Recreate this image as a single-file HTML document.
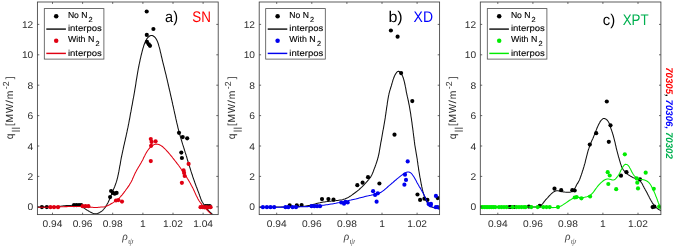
<!DOCTYPE html>
<html><head><meta charset="utf-8"><title>q parallel profiles</title>
<style>
html,body{margin:0;padding:0;background:#fff;}
body{width:674px;height:248px;overflow:hidden;}
svg{display:block;will-change:transform;}
text{font-family:"Liberation Sans",sans-serif;text-rendering:geometricPrecision;}
</style></head><body>
<svg width="674" height="248" viewBox="0 0 674 248">
<rect width="674" height="248" fill="#fff"/>
<g>
<clipPath id="cpa"><rect x="37.4" y="2.0" width="180.8" height="212.6"/></clipPath>
<g clip-path="url(#cpa)">
<path d="M37.4 207.1 L38.6 207.1 L39.8 207.1 L41.0 207.2 L42.2 207.1 L43.4 207.1 L44.6 207.1 L45.8 207.1 L47.0 207.0 L48.2 207.0 L49.4 206.9 L50.6 206.9 L51.8 206.8 L53.0 206.7 L54.2 206.6 L55.4 206.6 L56.6 206.5 L57.8 206.4 L59.0 206.3 L60.2 206.2 L61.4 206.1 L62.6 205.9 L63.8 205.8 L65.0 205.7 L66.2 205.6 L67.4 205.5 L68.5 205.5 L69.7 205.4 L70.9 205.4 L72.1 205.3 L73.3 205.3 L74.5 205.3 L75.7 205.3 L77.0 205.3 L78.2 205.3 L79.3 205.5 L80.5 205.9 L81.5 206.5 L82.6 207.1 L83.6 207.8 L84.6 208.4 L85.5 209.1 L86.5 209.8 L87.5 210.4 L88.6 211.0 L89.6 211.6 L90.7 212.2 L91.8 212.8 L92.9 213.3 L94.0 213.6 L95.2 213.8 L96.4 213.7 L97.6 213.4 L98.7 212.9 L99.8 212.4 L100.8 211.8 L101.8 211.1 L102.7 210.3 L103.5 209.5 L104.3 208.5 L105.0 207.6 L105.7 206.6 L106.3 205.5 L106.9 204.5 L107.5 203.4 L108.1 202.4 L108.6 201.3 L109.1 200.2 L109.6 199.1 L110.0 198.0 L110.5 196.9 L110.9 195.8 L111.4 194.6 L111.8 193.5 L112.3 192.4 L112.7 191.3 L113.2 190.2 L113.6 189.1 L114.1 188.0 L114.6 186.9 L115.0 185.8 L115.4 184.6 L115.8 183.5 L116.2 182.4 L116.6 181.2 L116.9 180.1 L117.2 178.9 L117.5 177.8 L117.8 176.6 L118.0 175.4 L118.3 174.3 L118.5 173.1 L118.8 171.9 L119.0 170.7 L119.2 169.5 L119.4 168.4 L119.6 167.2 L119.8 166.0 L120.1 164.8 L120.3 163.6 L120.5 162.4 L120.7 161.2 L120.9 160.0 L121.1 158.9 L121.3 157.7 L121.6 156.5 L121.8 155.3 L122.1 154.1 L122.3 153.0 L122.6 151.8 L122.8 150.6 L123.1 149.4 L123.3 148.3 L123.6 147.1 L123.8 145.9 L124.1 144.8 L124.4 143.6 L124.6 142.4 L124.9 141.3 L125.2 140.1 L125.4 138.9 L125.7 137.7 L126.0 136.6 L126.2 135.4 L126.5 134.2 L126.7 133.1 L127.0 131.9 L127.2 130.7 L127.5 129.5 L127.7 128.4 L128.0 127.2 L128.2 126.0 L128.4 124.8 L128.7 123.7 L128.9 122.5 L129.1 121.3 L129.3 120.1 L129.6 119.0 L129.8 117.8 L130.0 116.6 L130.2 115.4 L130.4 114.2 L130.6 113.0 L130.9 111.9 L131.1 110.7 L131.3 109.5 L131.5 108.3 L131.7 107.1 L131.9 106.0 L132.2 104.8 L132.4 103.6 L132.6 102.4 L132.8 101.2 L133.0 100.1 L133.2 98.9 L133.5 97.7 L133.7 96.5 L133.9 95.3 L134.1 94.2 L134.3 93.0 L134.5 91.8 L134.7 90.6 L134.9 89.4 L135.1 88.2 L135.3 87.1 L135.5 85.9 L135.7 84.7 L135.9 83.5 L136.0 82.3 L136.2 81.1 L136.4 79.9 L136.6 78.8 L136.8 77.6 L137.0 76.4 L137.2 75.2 L137.4 74.0 L137.6 72.8 L137.8 71.7 L138.0 70.5 L138.2 69.3 L138.4 68.1 L138.7 67.0 L138.9 65.8 L139.1 64.6 L139.4 63.4 L139.6 62.3 L139.9 61.1 L140.1 59.9 L140.4 58.7 L140.7 57.6 L140.9 56.4 L141.2 55.2 L141.5 54.0 L141.8 52.9 L142.1 51.7 L142.4 50.5 L142.7 49.4 L143.0 48.2 L143.4 47.1 L143.7 45.9 L144.1 44.8 L144.5 43.7 L144.9 42.6 L145.4 41.5 L145.9 40.4 L146.5 39.4 L147.2 38.3 L148.0 37.4 L149.0 36.5 L150.0 35.8 L151.2 35.4 L152.3 35.5 L153.3 36.0 L154.3 36.7 L155.2 37.7 L156.0 38.7 L156.6 39.8 L157.1 40.8 L157.6 41.9 L158.0 43.0 L158.4 44.2 L158.7 45.3 L159.0 46.4 L159.4 47.6 L159.7 48.8 L160.0 49.9 L160.2 51.1 L160.5 52.3 L160.8 53.4 L161.1 54.6 L161.3 55.8 L161.6 57.0 L161.9 58.1 L162.2 59.3 L162.4 60.5 L162.7 61.6 L163.0 62.8 L163.3 64.0 L163.6 65.1 L163.9 66.3 L164.2 67.5 L164.5 68.6 L164.7 69.8 L165.0 70.9 L165.3 72.1 L165.6 73.3 L165.9 74.4 L166.2 75.6 L166.4 76.8 L166.7 77.9 L167.0 79.1 L167.3 80.3 L167.5 81.4 L167.8 82.6 L168.1 83.8 L168.3 85.0 L168.6 86.1 L168.9 87.3 L169.1 88.5 L169.4 89.6 L169.7 90.8 L170.0 92.0 L170.2 93.1 L170.5 94.3 L170.7 95.5 L171.0 96.7 L171.3 97.8 L171.5 99.0 L171.8 100.2 L172.1 101.3 L172.3 102.5 L172.6 103.7 L172.8 104.9 L173.1 106.0 L173.4 107.2 L173.6 108.4 L173.9 109.5 L174.1 110.7 L174.4 111.9 L174.6 113.1 L174.9 114.2 L175.2 115.4 L175.4 116.6 L175.7 117.7 L175.9 118.9 L176.2 120.1 L176.5 121.3 L176.7 122.4 L177.0 123.6 L177.3 124.8 L177.6 125.9 L177.8 127.1 L178.1 128.3 L178.4 129.4 L178.7 130.6 L179.0 131.8 L179.3 132.9 L179.6 134.1 L180.0 135.2 L180.3 136.4 L180.6 137.5 L181.0 138.7 L181.3 139.8 L181.7 141.0 L182.0 142.1 L182.4 143.3 L182.7 144.4 L183.1 145.6 L183.5 146.7 L183.8 147.8 L184.2 149.0 L184.5 150.1 L184.9 151.3 L185.2 152.4 L185.6 153.6 L186.0 154.7 L186.3 155.9 L186.7 157.0 L187.0 158.2 L187.3 159.3 L187.7 160.5 L188.0 161.6 L188.4 162.8 L188.7 163.9 L189.1 165.1 L189.4 166.2 L189.8 167.3 L190.2 168.5 L190.5 169.6 L190.9 170.8 L191.2 171.9 L191.6 173.1 L192.0 174.2 L192.4 175.3 L192.7 176.5 L193.1 177.6 L193.5 178.8 L193.9 179.9 L194.3 181.0 L194.7 182.2 L195.1 183.3 L195.5 184.4 L195.9 185.5 L196.3 186.7 L196.8 187.8 L197.2 188.9 L197.6 190.0 L198.0 191.1 L198.5 192.3 L198.9 193.4 L199.3 194.5 L199.7 195.7 L200.1 196.8 L200.5 197.9 L200.9 199.1 L201.4 200.2 L201.9 201.3 L202.4 202.3 L203.1 203.3 L203.7 204.3 L204.4 205.3 L205.1 206.3 L205.7 207.3 L206.4 208.3 L207.2 209.2 L208.0 210.1 L208.8 211.0 L209.7 211.8 L210.6 212.6 L211.5 213.4 L212.4 214.3 L213.2 215.1 L214.0 216.0" fill="none" stroke="#111" stroke-width="1.05" stroke-linejoin="round"/>
<g fill="#000"><circle cx="146.7" cy="11.5" r="2.08"/><circle cx="153.4" cy="29.0" r="2.08"/><circle cx="146.8" cy="34.9" r="2.08"/><circle cx="147.0" cy="41.9" r="2.08"/><circle cx="148.8" cy="44.3" r="2.08"/><circle cx="150.0" cy="45.8" r="2.08"/><circle cx="179.0" cy="132.8" r="2.08"/><circle cx="182.7" cy="137.1" r="2.08"/><circle cx="187.2" cy="138.3" r="2.08"/><circle cx="181.3" cy="152.6" r="2.08"/><circle cx="181.9" cy="158.0" r="2.08"/><circle cx="111.1" cy="191.0" r="2.08"/><circle cx="112.9" cy="192.9" r="2.08"/><circle cx="116.6" cy="192.9" r="2.08"/><circle cx="114.7" cy="193.7" r="2.08"/><circle cx="110.1" cy="197.1" r="2.08"/><circle cx="41.9" cy="207.1" r="2.08"/><circle cx="46.8" cy="207.1" r="2.08"/><circle cx="74.0" cy="205.2" r="2.08"/><circle cx="76.5" cy="205.1" r="2.08"/><circle cx="79.0" cy="205.0" r="2.08"/><circle cx="81.2" cy="205.0" r="2.08"/><circle cx="205.5" cy="206.0" r="2.08"/><circle cx="207.5" cy="206.0" r="2.08"/><circle cx="209.7" cy="206.2" r="2.08"/></g>
<path d="M37.4 207.2 L38.6 207.2 L39.8 207.2 L41.0 207.3 L42.2 207.3 L43.4 207.3 L44.6 207.2 L45.8 207.2 L47.0 207.2 L48.2 207.2 L49.4 207.2 L50.6 207.1 L51.8 207.1 L53.0 207.1 L54.2 207.0 L55.4 207.0 L56.6 206.9 L57.8 206.9 L59.0 206.9 L60.2 206.8 L61.4 206.8 L62.6 206.7 L63.8 206.7 L65.0 206.6 L66.2 206.6 L67.4 206.6 L68.6 206.5 L69.8 206.5 L71.0 206.5 L72.2 206.5 L73.4 206.4 L74.6 206.4 L75.8 206.4 L77.0 206.4 L78.2 206.5 L79.4 206.5 L80.6 206.5 L81.8 206.6 L83.0 206.7 L84.2 206.7 L85.4 206.8 L86.6 206.9 L87.8 207.0 L89.0 207.1 L90.2 207.2 L91.3 207.3 L92.5 207.3 L93.7 207.4 L94.9 207.4 L96.1 207.4 L97.3 207.4 L98.5 207.3 L99.7 207.2 L100.9 207.1 L102.1 207.0 L103.3 206.9 L104.5 206.7 L105.7 206.4 L106.8 206.0 L107.9 205.6 L109.0 205.0 L110.0 204.5 L111.1 203.8 L112.1 203.2 L113.1 202.6 L114.2 201.9 L115.2 201.3 L116.2 200.6 L117.1 199.9 L118.1 199.2 L119.0 198.4 L119.8 197.5 L120.6 196.7 L121.4 195.7 L122.2 194.8 L122.9 193.9 L123.7 192.9 L124.4 191.9 L125.1 191.0 L125.8 190.0 L126.5 189.0 L127.2 188.1 L127.9 187.1 L128.6 186.1 L129.3 185.1 L129.9 184.1 L130.5 183.1 L131.1 182.0 L131.6 181.0 L132.2 179.9 L132.6 178.8 L133.1 177.7 L133.6 176.6 L134.1 175.5 L134.6 174.4 L135.1 173.3 L135.6 172.2 L136.2 171.2 L136.8 170.1 L137.4 169.1 L138.0 168.0 L138.6 167.0 L139.2 166.0 L139.8 164.9 L140.4 163.9 L141.0 162.9 L141.6 161.8 L142.2 160.8 L142.8 159.7 L143.3 158.6 L143.8 157.6 L144.3 156.5 L144.9 155.4 L145.4 154.3 L146.0 153.3 L146.6 152.2 L147.2 151.2 L147.9 150.2 L148.6 149.3 L149.4 148.3 L150.2 147.4 L151.0 146.6 L152.0 145.9 L153.0 145.2 L154.1 144.6 L155.3 144.3 L156.4 144.1 L157.6 144.2 L158.8 144.5 L159.9 145.0 L161.0 145.6 L162.0 146.3 L163.0 147.0 L163.8 147.8 L164.7 148.7 L165.5 149.5 L166.4 150.4 L167.2 151.3 L168.0 152.2 L168.8 153.1 L169.6 154.0 L170.3 154.9 L171.1 155.8 L171.9 156.7 L172.6 157.7 L173.3 158.6 L174.1 159.6 L174.8 160.5 L175.6 161.5 L176.3 162.4 L177.0 163.4 L177.8 164.3 L178.5 165.3 L179.2 166.2 L179.9 167.2 L180.6 168.2 L181.3 169.2 L182.0 170.1 L182.7 171.1 L183.3 172.1 L184.0 173.1 L184.7 174.1 L185.3 175.1 L186.0 176.1 L186.6 177.1 L187.2 178.2 L187.9 179.2 L188.5 180.2 L189.1 181.2 L189.7 182.3 L190.3 183.3 L190.9 184.4 L191.4 185.4 L192.0 186.5 L192.5 187.6 L193.1 188.6 L193.6 189.7 L194.1 190.8 L194.6 191.9 L195.1 193.0 L195.6 194.1 L196.1 195.2 L196.6 196.2 L197.2 197.3 L197.7 198.4 L198.3 199.4 L198.9 200.5 L199.6 201.5 L200.3 202.5 L201.0 203.4 L201.7 204.4 L202.5 205.3 L203.3 206.2 L204.1 207.1 L204.9 207.9 L205.8 208.8 L206.6 209.6 L207.5 210.5 L208.3 211.3 L209.2 212.2 L210.0 213.0 L210.8 213.9 L211.6 214.8 L212.4 215.7 L213.2 216.6 L214.0 217.5" fill="none" stroke="#e00012" stroke-width="1.05" stroke-linejoin="round"/>
<g fill="#e00012"><circle cx="150.8" cy="139.0" r="2.08"/><circle cx="151.6" cy="141.9" r="2.08"/><circle cx="155.6" cy="141.3" r="2.08"/><circle cx="151.1" cy="145.8" r="2.08"/><circle cx="150.8" cy="161.1" r="2.08"/><circle cx="188.6" cy="163.9" r="2.08"/><circle cx="183.6" cy="170.4" r="2.08"/><circle cx="184.1" cy="172.9" r="2.08"/><circle cx="184.7" cy="176.0" r="2.08"/><circle cx="181.9" cy="182.8" r="2.08"/><circle cx="50.4" cy="207.2" r="2.08"/><circle cx="54.0" cy="207.2" r="2.08"/><circle cx="58.0" cy="207.2" r="2.08"/><circle cx="82.6" cy="206.2" r="2.08"/><circle cx="85.5" cy="206.2" r="2.08"/><circle cx="88.4" cy="206.2" r="2.08"/><circle cx="116.0" cy="200.5" r="2.08"/><circle cx="118.4" cy="200.1" r="2.08"/><circle cx="122.0" cy="201.6" r="2.08"/><circle cx="200.5" cy="207.2" r="2.08"/><circle cx="202.4" cy="207.2" r="2.08"/><circle cx="204.3" cy="207.3" r="2.08"/><circle cx="206.2" cy="207.2" r="2.08"/><circle cx="208.1" cy="207.3" r="2.08"/><circle cx="210.6" cy="207.2" r="2.08"/></g>
</g>
<rect x="37.4" y="2.0" width="180.8" height="212.6" fill="none" stroke="#404040" stroke-width="0.85"/>
<path d="M52.5 214.6 v-1.9 M52.5 2.0 v1.9 M82.6 214.6 v-1.9 M82.6 2.0 v1.9 M112.7 214.6 v-1.9 M112.7 2.0 v1.9 M142.9 214.6 v-1.9 M142.9 2.0 v1.9 M173.0 214.6 v-1.9 M173.0 2.0 v1.9 M203.1 214.6 v-1.9 M203.1 2.0 v1.9 M37.4 206.8 h1.9 M218.2 206.8 h-1.9 M37.4 176.4 h1.9 M218.2 176.4 h-1.9 M37.4 146.0 h1.9 M218.2 146.0 h-1.9 M37.4 115.6 h1.9 M218.2 115.6 h-1.9 M37.4 85.2 h1.9 M218.2 85.2 h-1.9 M37.4 54.8 h1.9 M218.2 54.8 h-1.9 M37.4 24.4 h1.9 M218.2 24.4 h-1.9" fill="none" stroke="#404040" stroke-width="0.8"/>
<g font-size="9.7px" fill="#2e2e2e">
<text x="52.5" y="227.1" text-anchor="middle" textLength="19.8" lengthAdjust="spacingAndGlyphs">0.94</text><text x="82.6" y="227.1" text-anchor="middle" textLength="19.8" lengthAdjust="spacingAndGlyphs">0.96</text><text x="112.7" y="227.1" text-anchor="middle" textLength="19.8" lengthAdjust="spacingAndGlyphs">0.98</text><text x="142.9" y="227.1" text-anchor="middle" textLength="5.7" lengthAdjust="spacingAndGlyphs">1</text><text x="173.0" y="227.1" text-anchor="middle" textLength="19.8" lengthAdjust="spacingAndGlyphs">1.02</text><text x="203.1" y="227.1" text-anchor="middle" textLength="19.8" lengthAdjust="spacingAndGlyphs">1.04</text>
<text x="33.2" y="210.3" text-anchor="end" textLength="5.7" lengthAdjust="spacingAndGlyphs">0</text><text x="33.2" y="179.9" text-anchor="end" textLength="5.7" lengthAdjust="spacingAndGlyphs">2</text><text x="33.2" y="149.5" text-anchor="end" textLength="5.7" lengthAdjust="spacingAndGlyphs">4</text><text x="33.2" y="119.1" text-anchor="end" textLength="5.7" lengthAdjust="spacingAndGlyphs">6</text><text x="33.2" y="88.7" text-anchor="end" textLength="5.7" lengthAdjust="spacingAndGlyphs">8</text><text x="33.2" y="58.3" text-anchor="end" textLength="11.3" lengthAdjust="spacingAndGlyphs">10</text><text x="33.2" y="27.9" text-anchor="end" textLength="11.3" lengthAdjust="spacingAndGlyphs">12</text>
</g>
<text x="122.2" y="239.6" style="font-family:'Liberation Serif',serif;font-style:italic;font-size:11.5px" fill="#4a4a4a">&#961;</text><text x="127.9" y="244.0" style="font-family:'Liberation Serif',serif;font-style:italic;font-size:8.8px" fill="#5a5a5a">&#968;</text>
<g transform="translate(12.7 139.3) rotate(-90)" font-size="10.3px" fill="#2e2e2e"><text x="0" y="0">q</text><path d="M8.3 -0.9 V7.3 M11.1 -0.9 V7.3" stroke="#2e2e2e" stroke-width="0.85" fill="none"/><text x="13.3" y="0">[</text><text x="16.7" y="0">M</text><text x="26.4" y="0" textLength="9.0" lengthAdjust="spacingAndGlyphs">W</text><text x="35.7" y="0" textLength="3.5" lengthAdjust="spacingAndGlyphs">/</text><text x="40.1" y="0">m</text><text x="50.0" y="-4.0" font-size="8.8px">-2</text><text x="60.1" y="0">]</text></g>
<rect x="44.3" y="8.6" width="59.6" height="50.5" fill="#fff" stroke="#4d4d4d" stroke-width="0.8"/>
<circle cx="56.2" cy="16.3" r="2.25" fill="#000"/><path d="M46.3 29.1 h19.6" stroke="#111" stroke-width="1.45"/><circle cx="56.2" cy="40.8" r="2.25" fill="#e00012"/><path d="M46.3 53.4 h19.6" stroke="#e00012" stroke-width="1.45"/>
<g font-size="8.6px" fill="#000" stroke="#000" stroke-width="0.12"><text x="67.9" y="17.7" textLength="19.6" lengthAdjust="spacingAndGlyphs">No N</text><text x="88.6" y="21.6" font-size="7.4px">2</text><text x="67.9" y="31.3" textLength="34.0" lengthAdjust="spacingAndGlyphs">interpos</text><text x="67.9" y="42.0" textLength="26.4" lengthAdjust="spacingAndGlyphs">With N</text><text x="95.6" y="45.9" font-size="7.4px">2</text><text x="67.9" y="55.8" textLength="34.0" lengthAdjust="spacingAndGlyphs">interpos</text></g>
<text x="165.1" y="21.7" font-size="15.4px" fill="#000" textLength="12.9" lengthAdjust="spacingAndGlyphs">a)</text><text x="192.25" y="21.7" font-size="15.4px" fill="#ff0000" textLength="18.6" lengthAdjust="spacingAndGlyphs">SN</text>
</g>
<g>
<clipPath id="cpb"><rect x="259.2" y="2.0" width="180.4" height="212.6"/></clipPath>
<g clip-path="url(#cpb)">
<path d="M259.2 207.2 L260.4 207.2 L261.6 207.2 L262.8 207.2 L264.0 207.2 L265.2 207.2 L266.4 207.1 L267.6 207.1 L268.8 207.1 L270.0 207.1 L271.2 207.1 L272.4 207.1 L273.6 207.1 L274.8 207.0 L276.0 207.0 L277.2 207.0 L278.4 207.0 L279.6 207.0 L280.8 206.9 L282.0 206.9 L283.2 206.9 L284.4 206.9 L285.6 206.9 L286.8 206.8 L288.0 206.8 L289.2 206.8 L290.4 206.8 L291.6 206.8 L292.8 206.7 L294.0 206.7 L295.1 206.7 L296.3 206.7 L297.5 206.6 L298.7 206.6 L299.9 206.6 L301.1 206.5 L302.3 206.4 L303.5 206.3 L304.7 206.2 L305.9 206.0 L307.1 205.8 L308.3 205.6 L309.5 205.4 L310.6 205.1 L311.8 204.8 L312.9 204.5 L314.1 204.2 L315.3 203.9 L316.4 203.6 L317.6 203.3 L318.8 203.0 L319.9 202.8 L321.1 202.5 L322.3 202.3 L323.5 202.1 L324.6 201.9 L325.8 201.7 L327.0 201.6 L328.2 201.4 L329.4 201.3 L330.6 201.2 L331.8 201.1 L333.0 201.0 L334.2 200.9 L335.4 200.8 L336.6 200.6 L337.8 200.5 L338.9 200.3 L340.1 200.1 L341.3 199.9 L342.5 199.7 L343.6 199.3 L344.8 199.0 L345.9 198.5 L347.0 198.1 L348.1 197.5 L349.1 196.9 L350.1 196.2 L351.1 195.6 L352.1 194.9 L353.0 194.2 L354.0 193.5 L355.0 192.8 L356.0 192.0 L356.9 191.3 L357.8 190.6 L358.8 189.8 L359.7 189.0 L360.6 188.2 L361.4 187.4 L362.3 186.6 L363.2 185.7 L364.0 184.9 L364.8 184.0 L365.6 183.1 L366.4 182.2 L367.2 181.3 L368.0 180.4 L368.8 179.5 L369.5 178.5 L370.2 177.6 L370.9 176.6 L371.5 175.5 L372.0 174.5 L372.5 173.4 L373.0 172.3 L373.4 171.1 L373.8 170.0 L374.2 168.9 L374.7 167.8 L375.1 166.6 L375.5 165.5 L375.9 164.4 L376.3 163.2 L376.7 162.1 L377.0 161.0 L377.4 159.8 L377.7 158.7 L378.1 157.5 L378.3 156.4 L378.6 155.2 L378.9 154.0 L379.1 152.9 L379.3 151.7 L379.5 150.5 L379.7 149.3 L379.9 148.1 L380.1 146.9 L380.3 145.8 L380.5 144.6 L380.7 143.4 L380.9 142.2 L381.2 141.0 L381.4 139.9 L381.6 138.7 L381.8 137.5 L382.0 136.3 L382.2 135.1 L382.4 134.0 L382.6 132.8 L382.8 131.6 L383.0 130.4 L383.3 129.2 L383.5 128.1 L383.7 126.9 L383.9 125.7 L384.1 124.5 L384.3 123.3 L384.5 122.2 L384.7 121.0 L384.9 119.8 L385.1 118.6 L385.3 117.4 L385.4 116.2 L385.6 115.1 L385.8 113.9 L386.0 112.7 L386.1 111.5 L386.3 110.3 L386.5 109.1 L386.6 107.9 L386.8 106.8 L387.0 105.6 L387.2 104.4 L387.3 103.2 L387.5 102.0 L387.7 100.8 L387.9 99.6 L388.1 98.4 L388.3 97.3 L388.5 96.1 L388.8 94.9 L389.0 93.7 L389.3 92.6 L389.6 91.4 L389.9 90.3 L390.3 89.1 L390.6 88.0 L391.0 86.8 L391.4 85.7 L391.7 84.5 L392.0 83.4 L392.4 82.2 L392.7 81.1 L393.0 79.9 L393.4 78.9 L393.8 77.8 L394.2 76.7 L394.7 75.6 L395.3 74.4 L396.1 73.2 L396.9 72.1 L397.8 71.4 L398.7 71.2 L399.6 71.7 L400.5 72.7 L401.3 73.8 L402.0 75.0 L402.6 76.1 L403.0 77.2 L403.4 78.3 L403.7 79.4 L404.0 80.5 L404.3 81.7 L404.6 82.8 L404.8 84.0 L405.1 85.2 L405.3 86.4 L405.6 87.6 L405.8 88.7 L406.0 89.9 L406.2 91.1 L406.4 92.3 L406.7 93.4 L406.9 94.6 L407.2 95.8 L407.4 96.9 L407.7 98.1 L408.0 99.3 L408.2 100.5 L408.5 101.6 L408.7 102.8 L408.9 104.0 L409.2 105.2 L409.4 106.3 L409.6 107.5 L409.8 108.7 L410.0 109.9 L410.2 111.1 L410.4 112.2 L410.6 113.4 L410.8 114.6 L410.9 115.8 L411.1 117.0 L411.3 118.2 L411.5 119.4 L411.6 120.5 L411.8 121.7 L412.0 122.9 L412.1 124.1 L412.3 125.3 L412.4 126.5 L412.6 127.7 L412.8 128.9 L412.9 130.0 L413.1 131.2 L413.2 132.4 L413.4 133.6 L413.5 134.8 L413.7 136.0 L413.8 137.2 L414.0 138.4 L414.1 139.6 L414.3 140.7 L414.4 141.9 L414.6 143.1 L414.7 144.3 L414.9 145.5 L415.1 146.7 L415.3 147.9 L415.5 149.0 L415.7 150.2 L415.9 151.4 L416.1 152.6 L416.3 153.8 L416.5 154.9 L416.7 156.1 L416.9 157.3 L417.1 158.5 L417.3 159.7 L417.4 160.9 L417.6 162.1 L417.8 163.2 L417.9 164.4 L418.1 165.6 L418.3 166.8 L418.5 168.0 L418.6 169.2 L418.8 170.4 L419.0 171.5 L419.2 172.7 L419.4 173.9 L419.6 175.1 L419.8 176.3 L420.0 177.4 L420.3 178.6 L420.5 179.8 L420.7 181.0 L420.9 182.2 L421.1 183.3 L421.3 184.5 L421.6 185.7 L421.8 186.9 L422.1 188.0 L422.3 189.2 L422.6 190.4 L422.9 191.5 L423.3 192.7 L423.6 193.8 L424.0 195.0 L424.3 196.1 L424.8 197.2 L425.2 198.3 L425.7 199.4 L426.2 200.5 L426.7 201.6 L427.4 202.7 L428.0 203.7 L428.8 204.7 L429.6 205.5 L430.5 206.3 L431.5 206.9 L432.6 207.3 L433.8 207.7 L435.0 207.9 L436.3 208.0 L437.5 208.1 L438.7 208.0 L439.8 207.9" fill="none" stroke="#111" stroke-width="1.05" stroke-linejoin="round"/>
<g fill="#000"><circle cx="390.9" cy="30.5" r="2.08"/><circle cx="397.6" cy="36.7" r="2.08"/><circle cx="401.1" cy="73.1" r="2.08"/><circle cx="412.3" cy="101.1" r="2.08"/><circle cx="394.5" cy="134.7" r="2.08"/><circle cx="368.0" cy="177.2" r="2.08"/><circle cx="362.6" cy="182.7" r="2.08"/><circle cx="357.3" cy="185.2" r="2.08"/><circle cx="379.4" cy="183.5" r="2.08"/><circle cx="289.7" cy="205.3" r="2.08"/><circle cx="296.8" cy="205.3" r="2.08"/><circle cx="301.6" cy="205.0" r="2.08"/><circle cx="322.0" cy="199.1" r="2.08"/><circle cx="328.4" cy="199.1" r="2.08"/><circle cx="333.5" cy="199.7" r="2.08"/><circle cx="417.5" cy="194.5" r="2.08"/><circle cx="420.1" cy="199.9" r="2.08"/><circle cx="424.4" cy="198.7" r="2.08"/><circle cx="427.4" cy="199.9" r="2.08"/><circle cx="437.7" cy="198.1" r="2.08"/></g>
<path d="M259.2 207.2 L260.4 207.2 L261.6 207.2 L262.8 207.2 L264.0 207.2 L265.2 207.2 L266.4 207.3 L267.6 207.3 L268.8 207.3 L270.0 207.2 L271.2 207.2 L272.4 207.2 L273.6 207.2 L274.8 207.2 L276.0 207.2 L277.2 207.2 L278.4 207.2 L279.6 207.2 L280.8 207.2 L282.0 207.1 L283.2 207.1 L284.4 207.1 L285.6 207.1 L286.8 207.1 L288.0 207.0 L289.2 207.0 L290.4 207.0 L291.6 207.0 L292.8 207.0 L294.0 206.9 L295.2 206.9 L296.4 206.9 L297.6 206.9 L298.8 206.8 L300.0 206.8 L301.1 206.8 L302.3 206.7 L303.5 206.7 L304.7 206.7 L305.9 206.6 L307.1 206.6 L308.3 206.6 L309.5 206.5 L310.7 206.4 L311.9 206.4 L313.1 206.3 L314.3 206.2 L315.5 206.1 L316.7 206.0 L317.9 205.9 L319.1 205.8 L320.3 205.6 L321.5 205.5 L322.7 205.3 L323.9 205.2 L325.0 205.0 L326.2 204.8 L327.4 204.7 L328.6 204.5 L329.8 204.3 L331.0 204.1 L332.1 203.9 L333.3 203.7 L334.5 203.5 L335.7 203.3 L336.9 203.0 L338.0 202.8 L339.2 202.6 L340.4 202.3 L341.6 202.1 L342.7 201.9 L343.9 201.6 L345.1 201.4 L346.3 201.1 L347.4 200.9 L348.6 200.6 L349.8 200.3 L350.9 200.1 L352.1 199.8 L353.3 199.5 L354.5 199.2 L355.6 199.0 L356.8 198.7 L357.9 198.4 L359.1 198.1 L360.3 197.8 L361.4 197.5 L362.6 197.2 L363.7 196.9 L364.9 196.6 L366.1 196.3 L367.2 196.0 L368.4 195.8 L369.6 195.5 L370.7 195.3 L371.9 195.0 L373.1 194.8 L374.3 194.6 L375.5 194.3 L376.7 194.0 L377.8 193.7 L378.9 193.3 L380.0 192.8 L381.0 192.3 L382.0 191.6 L383.0 190.9 L384.0 190.2 L384.9 189.4 L385.8 188.6 L386.7 187.8 L387.6 187.0 L388.5 186.2 L389.5 185.4 L390.4 184.6 L391.3 183.8 L392.2 183.0 L393.1 182.3 L394.0 181.5 L394.9 180.7 L395.8 180.0 L396.7 179.2 L397.7 178.4 L398.6 177.7 L399.5 176.9 L400.5 176.1 L401.4 175.4 L402.4 174.7 L403.3 174.0 L404.3 173.3 L405.4 172.7 L406.5 172.3 L407.7 172.0 L408.9 172.0 L410.0 172.4 L411.0 173.1 L411.9 174.0 L412.6 175.0 L413.3 176.0 L414.0 177.0 L414.6 178.0 L415.1 179.1 L415.7 180.1 L416.3 181.1 L416.8 182.2 L417.4 183.2 L418.0 184.3 L418.6 185.3 L419.2 186.4 L419.8 187.4 L420.5 188.4 L421.1 189.5 L421.7 190.5 L422.2 191.6 L422.8 192.6 L423.4 193.7 L423.9 194.7 L424.4 195.8 L425.0 196.9 L425.4 198.0 L425.9 199.1 L426.4 200.2 L426.9 201.3 L427.4 202.4 L428.0 203.4 L428.7 204.4 L429.5 205.3 L430.4 206.0 L431.5 206.6 L432.6 207.0 L433.9 207.4 L435.1 207.6 L436.3 207.8 L437.6 207.9 L438.7 207.9 L439.8 207.8" fill="none" stroke="#0000ee" stroke-width="1.05" stroke-linejoin="round"/>
<g fill="#0000ee"><circle cx="262.9" cy="207.2" r="2.08"/><circle cx="266.9" cy="207.2" r="2.08"/><circle cx="270.5" cy="207.2" r="2.08"/><circle cx="274.2" cy="207.2" r="2.08"/><circle cx="285.5" cy="207.2" r="2.08"/><circle cx="288.3" cy="207.2" r="2.08"/><circle cx="292.6" cy="207.2" r="2.08"/><circle cx="296.0" cy="207.2" r="2.08"/><circle cx="311.5" cy="206.2" r="2.08"/><circle cx="314.3" cy="206.2" r="2.08"/><circle cx="317.1" cy="206.2" r="2.08"/><circle cx="320.0" cy="206.2" r="2.08"/><circle cx="341.2" cy="202.5" r="2.08"/><circle cx="344.0" cy="203.7" r="2.08"/><circle cx="345.4" cy="201.9" r="2.08"/><circle cx="347.7" cy="202.5" r="2.08"/><circle cx="373.1" cy="191.2" r="2.08"/><circle cx="375.1" cy="194.9" r="2.08"/><circle cx="377.8" cy="193.3" r="2.08"/><circle cx="376.6" cy="201.7" r="2.08"/><circle cx="407.7" cy="161.4" r="2.08"/><circle cx="405.0" cy="174.7" r="2.08"/><circle cx="406.0" cy="179.9" r="2.08"/><circle cx="404.4" cy="184.7" r="2.08"/><circle cx="428.6" cy="204.1" r="2.08"/><circle cx="430.4" cy="205.3" r="2.08"/><circle cx="431.0" cy="203.9" r="2.08"/><circle cx="435.9" cy="195.9" r="2.08"/><circle cx="435.9" cy="207.2" r="2.08"/><circle cx="437.7" cy="207.2" r="2.08"/><circle cx="439.5" cy="207.8" r="2.08"/></g>
</g>
<rect x="259.2" y="2.0" width="180.4" height="212.6" fill="none" stroke="#404040" stroke-width="0.85"/>
<path d="M276.7 214.6 v-1.9 M276.7 2.0 v1.9 M311.8 214.6 v-1.9 M311.8 2.0 v1.9 M346.9 214.6 v-1.9 M346.9 2.0 v1.9 M382.0 214.6 v-1.9 M382.0 2.0 v1.9 M417.1 214.6 v-1.9 M417.1 2.0 v1.9 M259.2 206.8 h1.9 M439.6 206.8 h-1.9 M259.2 176.4 h1.9 M439.6 176.4 h-1.9 M259.2 146.0 h1.9 M439.6 146.0 h-1.9 M259.2 115.6 h1.9 M439.6 115.6 h-1.9 M259.2 85.2 h1.9 M439.6 85.2 h-1.9 M259.2 54.8 h1.9 M439.6 54.8 h-1.9 M259.2 24.4 h1.9 M439.6 24.4 h-1.9" fill="none" stroke="#404040" stroke-width="0.8"/>
<g font-size="9.7px" fill="#2e2e2e">
<text x="276.7" y="227.1" text-anchor="middle" textLength="19.8" lengthAdjust="spacingAndGlyphs">0.94</text><text x="311.8" y="227.1" text-anchor="middle" textLength="19.8" lengthAdjust="spacingAndGlyphs">0.96</text><text x="346.9" y="227.1" text-anchor="middle" textLength="19.8" lengthAdjust="spacingAndGlyphs">0.98</text><text x="382.0" y="227.1" text-anchor="middle" textLength="5.7" lengthAdjust="spacingAndGlyphs">1</text><text x="417.1" y="227.1" text-anchor="middle" textLength="19.8" lengthAdjust="spacingAndGlyphs">1.02</text>
<text x="255.0" y="210.3" text-anchor="end" textLength="5.7" lengthAdjust="spacingAndGlyphs">0</text><text x="255.0" y="179.9" text-anchor="end" textLength="5.7" lengthAdjust="spacingAndGlyphs">2</text><text x="255.0" y="149.5" text-anchor="end" textLength="5.7" lengthAdjust="spacingAndGlyphs">4</text><text x="255.0" y="119.1" text-anchor="end" textLength="5.7" lengthAdjust="spacingAndGlyphs">6</text><text x="255.0" y="88.7" text-anchor="end" textLength="5.7" lengthAdjust="spacingAndGlyphs">8</text><text x="255.0" y="58.3" text-anchor="end" textLength="11.3" lengthAdjust="spacingAndGlyphs">10</text><text x="255.0" y="27.9" text-anchor="end" textLength="11.3" lengthAdjust="spacingAndGlyphs">12</text>
</g>
<text x="343.8" y="239.6" style="font-family:'Liberation Serif',serif;font-style:italic;font-size:11.5px" fill="#4a4a4a">&#961;</text><text x="349.5" y="244.0" style="font-family:'Liberation Serif',serif;font-style:italic;font-size:8.8px" fill="#5a5a5a">&#968;</text>
<g transform="translate(234.5 139.3) rotate(-90)" font-size="10.3px" fill="#2e2e2e"><text x="0" y="0">q</text><path d="M8.3 -0.9 V7.3 M11.1 -0.9 V7.3" stroke="#2e2e2e" stroke-width="0.85" fill="none"/><text x="13.3" y="0">[</text><text x="16.7" y="0">M</text><text x="26.4" y="0" textLength="9.0" lengthAdjust="spacingAndGlyphs">W</text><text x="35.7" y="0" textLength="3.5" lengthAdjust="spacingAndGlyphs">/</text><text x="40.1" y="0">m</text><text x="50.0" y="-4.0" font-size="8.8px">-2</text><text x="60.1" y="0">]</text></g>
<rect x="265.7" y="8.6" width="59.6" height="50.5" fill="#fff" stroke="#4d4d4d" stroke-width="0.8"/>
<circle cx="277.6" cy="16.3" r="2.25" fill="#000"/><path d="M267.7 29.1 h19.6" stroke="#111" stroke-width="1.45"/><circle cx="277.6" cy="40.8" r="2.25" fill="#0000ee"/><path d="M267.7 53.4 h19.6" stroke="#0000ee" stroke-width="1.45"/>
<g font-size="8.6px" fill="#000" stroke="#000" stroke-width="0.12"><text x="289.3" y="17.7" textLength="19.6" lengthAdjust="spacingAndGlyphs">No N</text><text x="310.0" y="21.6" font-size="7.4px">2</text><text x="289.3" y="31.3" textLength="34.0" lengthAdjust="spacingAndGlyphs">interpos</text><text x="289.3" y="42.0" textLength="26.4" lengthAdjust="spacingAndGlyphs">With N</text><text x="317.0" y="45.9" font-size="7.4px">2</text><text x="289.3" y="55.8" textLength="34.0" lengthAdjust="spacingAndGlyphs">interpos</text></g>
<text x="388.4" y="21.7" font-size="15.4px" fill="#000" textLength="14.3" lengthAdjust="spacingAndGlyphs">b)</text><text x="413.60" y="21.7" font-size="15.4px" fill="#0000ff" textLength="19.4" lengthAdjust="spacingAndGlyphs">XD</text>
</g>
<g>
<clipPath id="cpc"><rect x="480.3" y="2.0" width="180.6" height="212.6"/></clipPath>
<g clip-path="url(#cpc)">
<path d="M480.3 207.0 L481.5 207.0 L482.7 207.0 L483.9 207.0 L485.0 207.0 L486.2 207.0 L487.4 207.0 L488.6 207.0 L489.8 207.0 L491.0 207.0 L492.2 207.0 L493.4 207.0 L494.6 207.0 L495.8 207.0 L497.0 207.0 L498.2 207.0 L499.4 207.0 L500.6 207.0 L501.8 207.0 L503.0 207.0 L504.2 207.0 L505.4 207.0 L506.6 207.0 L507.9 207.0 L509.1 207.0 L510.3 207.0 L511.5 207.0 L512.7 207.0 L513.9 207.0 L515.1 207.0 L516.3 207.0 L517.5 207.0 L518.7 207.0 L519.9 207.0 L521.1 207.0 L522.3 207.0 L523.5 207.0 L524.7 207.0 L525.9 207.0 L527.1 207.0 L528.3 207.0 L529.4 207.0 L530.6 207.0 L531.8 207.0 L533.0 207.0 L534.2 207.0 L535.4 206.9 L536.6 206.9 L537.9 206.7 L539.0 206.5 L540.1 206.0 L541.1 205.4 L541.9 204.5 L542.7 203.6 L543.5 202.6 L544.2 201.6 L545.0 200.7 L545.8 199.7 L546.6 198.8 L547.4 198.0 L548.2 197.1 L549.0 196.2 L549.8 195.3 L550.6 194.5 L551.5 193.6 L552.4 192.8 L553.3 192.1 L554.4 191.5 L555.5 191.0 L556.7 190.7 L557.9 190.7 L559.0 190.9 L560.2 191.2 L561.4 191.5 L562.6 191.7 L563.7 191.9 L564.9 192.1 L566.1 192.2 L567.4 192.3 L568.6 192.3 L569.8 192.2 L570.9 192.0 L572.0 191.4 L573.0 190.7 L573.8 189.8 L574.5 188.9 L575.2 187.8 L575.7 186.8 L576.2 185.7 L576.8 184.6 L577.4 183.6 L578.1 182.6 L578.6 181.5 L579.2 180.5 L579.7 179.4 L580.1 178.3 L580.5 177.2 L580.9 176.0 L581.3 174.9 L581.7 173.7 L582.1 172.6 L582.4 171.4 L582.8 170.3 L583.2 169.2 L583.5 168.0 L583.9 166.9 L584.2 165.7 L584.5 164.6 L584.9 163.4 L585.2 162.3 L585.4 161.1 L585.7 159.9 L586.0 158.8 L586.3 157.6 L586.6 156.4 L586.9 155.3 L587.2 154.1 L587.5 152.9 L587.8 151.8 L588.1 150.6 L588.5 149.5 L588.9 148.4 L589.3 147.2 L589.7 146.1 L590.1 145.0 L590.5 143.9 L591.0 142.8 L591.4 141.6 L591.9 140.5 L592.4 139.4 L592.9 138.4 L593.4 137.3 L593.8 136.1 L594.3 135.0 L594.7 133.9 L595.1 132.8 L595.6 131.7 L596.0 130.6 L596.5 129.5 L596.9 128.3 L597.4 127.2 L597.9 126.1 L598.4 125.0 L598.9 124.0 L599.5 122.9 L600.0 121.9 L600.7 120.9 L601.5 120.0 L602.4 119.1 L603.4 118.4 L604.5 118.4 L605.6 118.9 L606.6 119.7 L607.5 120.5 L608.2 121.5 L608.8 122.5 L609.3 123.6 L609.7 124.7 L610.1 125.8 L610.5 127.0 L610.8 128.2 L611.2 129.3 L611.6 130.4 L612.0 131.6 L612.4 132.7 L612.7 133.8 L613.1 135.0 L613.4 136.1 L613.7 137.3 L614.0 138.4 L614.3 139.6 L614.6 140.8 L614.9 141.9 L615.2 143.1 L615.4 144.3 L615.7 145.5 L616.0 146.6 L616.2 147.8 L616.5 149.0 L616.8 150.1 L617.1 151.3 L617.4 152.4 L617.7 153.6 L618.0 154.7 L618.3 155.9 L618.6 157.0 L619.0 158.2 L619.3 159.4 L619.6 160.5 L620.0 161.7 L620.3 162.8 L620.7 164.0 L621.1 165.1 L621.5 166.3 L621.9 167.4 L622.5 168.4 L623.1 169.5 L623.8 170.4 L624.5 171.3 L625.4 172.2 L626.3 173.0 L627.2 173.8 L628.1 174.6 L629.1 175.3 L630.1 175.9 L631.1 176.6 L632.2 177.1 L633.3 177.7 L634.4 178.1 L635.5 178.6 L636.7 179.1 L637.8 179.5 L638.8 180.1 L639.8 180.8 L640.6 181.6 L641.3 182.5 L642.0 183.5 L642.6 184.6 L643.1 185.7 L643.7 186.8 L644.3 187.9 L644.9 188.9 L645.4 190.0 L646.0 191.0 L646.6 192.0 L647.1 193.1 L647.7 194.2 L648.2 195.2 L648.8 196.3 L649.3 197.4 L649.9 198.4 L650.4 199.5 L651.0 200.6 L651.6 201.6 L652.2 202.6 L652.9 203.6 L653.6 204.6 L654.3 205.5 L655.1 206.4 L656.0 207.3 L656.9 208.1 L657.8 208.8 L658.8 209.5 L659.9 210.1 L660.9 210.7 L661.9 211.3 L663.0 211.9 L664.0 212.5" fill="none" stroke="#111" stroke-width="1.05" stroke-linejoin="round"/>
<g fill="#000"><circle cx="606.8" cy="101.5" r="2.08"/><circle cx="610.5" cy="125.3" r="2.08"/><circle cx="596.2" cy="133.2" r="2.08"/><circle cx="589.8" cy="144.6" r="2.08"/><circle cx="608.8" cy="141.8" r="2.08"/><circle cx="626.5" cy="172.2" r="2.08"/><circle cx="621.0" cy="175.7" r="2.08"/><circle cx="640.0" cy="179.3" r="2.08"/><circle cx="554.5" cy="188.7" r="2.08"/><circle cx="561.2" cy="190.2" r="2.08"/><circle cx="572.3" cy="190.2" r="2.08"/><circle cx="574.7" cy="190.5" r="2.08"/><circle cx="509.3" cy="207.0" r="2.08"/><circle cx="510.8" cy="207.0" r="2.08"/><circle cx="514.1" cy="207.0" r="2.08"/><circle cx="528.9" cy="206.6" r="2.08"/><circle cx="539.7" cy="205.8" r="2.08"/><circle cx="652.6" cy="207.1" r="2.08"/><circle cx="654.4" cy="206.7" r="2.08"/></g>
<path d="M480.3 207.0 L481.5 207.1 L482.8 207.2 L484.0 207.3 L485.2 207.4 L486.4 207.5 L487.6 207.6 L488.9 207.6 L490.1 207.7 L491.3 207.7 L492.5 207.7 L493.7 207.8 L494.9 207.8 L496.1 207.8 L497.3 207.8 L498.5 207.8 L499.7 207.8 L500.9 207.8 L502.1 207.8 L503.3 207.8 L504.5 207.7 L505.6 207.7 L506.8 207.7 L508.0 207.6 L509.2 207.6 L510.4 207.6 L511.6 207.5 L512.8 207.5 L513.9 207.4 L515.1 207.4 L516.3 207.3 L517.5 207.3 L518.7 207.2 L519.8 207.2 L521.0 207.2 L522.2 207.1 L523.4 207.1 L524.6 207.0 L525.8 207.0 L527.0 207.0 L528.1 206.9 L529.3 206.9 L530.5 206.9 L531.7 206.9 L532.9 206.9 L534.1 206.9 L535.3 206.9 L536.5 206.9 L537.7 206.9 L538.9 206.9 L540.1 206.9 L541.3 207.0 L542.5 207.0 L543.7 207.1 L545.0 207.1 L546.2 207.2 L547.4 207.3 L548.6 207.3 L549.8 207.4 L551.1 207.5 L552.3 207.6 L553.5 207.6 L554.7 207.5 L555.9 207.4 L557.0 207.3 L558.2 207.0 L559.3 206.6 L560.4 206.2 L561.5 205.7 L562.5 205.1 L563.5 204.4 L564.6 203.8 L565.6 203.1 L566.6 202.4 L567.6 201.7 L568.6 201.0 L569.6 200.3 L570.7 199.7 L571.7 199.1 L572.8 198.6 L573.9 198.2 L575.0 197.8 L576.2 197.5 L577.4 197.4 L578.6 197.3 L579.8 197.4 L581.0 197.5 L582.2 197.5 L583.4 197.4 L584.5 197.3 L585.7 197.0 L586.9 196.7 L588.0 196.3 L589.1 195.8 L590.2 195.2 L591.1 194.5 L592.0 193.7 L592.8 192.8 L593.6 191.9 L594.3 190.9 L595.0 189.9 L595.7 188.9 L596.4 188.0 L597.1 187.0 L597.8 186.1 L598.6 185.2 L599.4 184.3 L600.3 183.4 L601.1 182.6 L602.0 181.8 L603.0 181.0 L604.0 180.3 L605.0 179.7 L606.1 179.3 L607.3 179.0 L608.5 179.0 L609.7 179.2 L610.9 179.6 L612.1 180.0 L613.2 180.1 L614.3 179.8 L615.3 179.1 L616.2 178.2 L617.0 177.2 L617.8 176.3 L618.4 175.3 L619.0 174.3 L619.6 173.2 L620.1 172.1 L620.6 171.0 L621.1 169.9 L621.7 168.9 L622.3 167.8 L622.9 166.9 L623.6 165.8 L624.4 164.9 L625.4 164.3 L626.6 164.4 L627.7 165.0 L628.5 165.9 L629.2 166.8 L629.8 167.9 L630.4 168.9 L630.9 170.0 L631.4 171.1 L632.0 172.2 L632.6 173.3 L633.2 174.3 L633.9 175.3 L634.7 176.2 L635.5 177.0 L636.5 177.7 L637.6 178.3 L638.7 178.8 L639.8 179.2 L641.0 179.4 L642.2 179.6 L643.4 179.8 L644.5 180.1 L645.7 180.5 L646.8 181.0 L647.8 181.7 L648.7 182.4 L649.5 183.3 L650.2 184.3 L650.9 185.3 L651.5 186.4 L652.0 187.4 L652.6 188.5 L653.1 189.6 L653.6 190.7 L654.1 191.8 L654.6 192.9 L655.1 194.0 L655.5 195.1 L655.9 196.2 L656.4 197.3 L656.8 198.4 L657.2 199.5 L657.6 200.7 L658.0 201.8 L658.4 202.9 L658.9 204.0 L659.3 205.2 L659.8 206.3 L660.2 207.4 L660.7 208.5 L661.2 209.6 L661.6 210.7 L662.1 211.8 L662.6 212.9 L663.0 214.0" fill="none" stroke="#00ec00" stroke-width="1.05" stroke-linejoin="round"/>
<g fill="#00ec00"><circle cx="480.6" cy="207.1" r="2.08"/><circle cx="482.4" cy="207.1" r="2.08"/><circle cx="484.3" cy="207.1" r="2.08"/><circle cx="486.1" cy="207.1" r="2.08"/><circle cx="487.9" cy="207.1" r="2.08"/><circle cx="489.8" cy="207.1" r="2.08"/><circle cx="491.6" cy="207.1" r="2.08"/><circle cx="493.4" cy="207.1" r="2.08"/><circle cx="495.2" cy="207.1" r="2.08"/><circle cx="499.0" cy="207.1" r="2.08"/><circle cx="501.5" cy="207.1" r="2.08"/><circle cx="504.0" cy="207.1" r="2.08"/><circle cx="506.5" cy="207.1" r="2.08"/><circle cx="512.5" cy="207.1" r="2.08"/><circle cx="516.5" cy="207.1" r="2.08"/><circle cx="519.0" cy="207.1" r="2.08"/><circle cx="521.5" cy="207.1" r="2.08"/><circle cx="524.0" cy="207.1" r="2.08"/><circle cx="525.7" cy="207.1" r="2.08"/><circle cx="531.3" cy="207.1" r="2.08"/><circle cx="537.7" cy="207.1" r="2.08"/><circle cx="543.3" cy="207.1" r="2.08"/><circle cx="546.5" cy="207.1" r="2.08"/><circle cx="549.7" cy="207.1" r="2.08"/><circle cx="558.0" cy="207.1" r="2.08"/><circle cx="624.8" cy="154.3" r="2.08"/><circle cx="607.7" cy="172.2" r="2.08"/><circle cx="609.7" cy="175.5" r="2.08"/><circle cx="645.7" cy="172.7" r="2.08"/><circle cx="636.7" cy="178.4" r="2.08"/><circle cx="574.7" cy="197.5" r="2.08"/><circle cx="576.6" cy="197.1" r="2.08"/><circle cx="581.4" cy="198.3" r="2.08"/><circle cx="590.1" cy="196.5" r="2.08"/><circle cx="608.3" cy="184.0" r="2.08"/><circle cx="616.2" cy="189.2" r="2.08"/><circle cx="638.0" cy="188.4" r="2.08"/><circle cx="637.3" cy="182.7" r="2.08"/><circle cx="653.8" cy="188.8" r="2.08"/><circle cx="659.2" cy="206.7" r="2.08"/></g>
</g>
<rect x="480.3" y="2.0" width="180.6" height="212.6" fill="none" stroke="#404040" stroke-width="0.85"/>
<path d="M497.8 214.6 v-1.9 M497.8 2.0 v1.9 M532.9 214.6 v-1.9 M532.9 2.0 v1.9 M567.9 214.6 v-1.9 M567.9 2.0 v1.9 M602.9 214.6 v-1.9 M602.9 2.0 v1.9 M638.0 214.6 v-1.9 M638.0 2.0 v1.9 M480.3 206.8 h1.9 M660.9 206.8 h-1.9 M480.3 176.4 h1.9 M660.9 176.4 h-1.9 M480.3 146.0 h1.9 M660.9 146.0 h-1.9 M480.3 115.6 h1.9 M660.9 115.6 h-1.9 M480.3 85.2 h1.9 M660.9 85.2 h-1.9 M480.3 54.8 h1.9 M660.9 54.8 h-1.9 M480.3 24.4 h1.9 M660.9 24.4 h-1.9" fill="none" stroke="#404040" stroke-width="0.8"/>
<g font-size="9.7px" fill="#2e2e2e">
<text x="497.8" y="227.1" text-anchor="middle" textLength="19.8" lengthAdjust="spacingAndGlyphs">0.94</text><text x="532.9" y="227.1" text-anchor="middle" textLength="19.8" lengthAdjust="spacingAndGlyphs">0.96</text><text x="567.9" y="227.1" text-anchor="middle" textLength="19.8" lengthAdjust="spacingAndGlyphs">0.98</text><text x="602.9" y="227.1" text-anchor="middle" textLength="5.7" lengthAdjust="spacingAndGlyphs">1</text><text x="638.0" y="227.1" text-anchor="middle" textLength="19.8" lengthAdjust="spacingAndGlyphs">1.02</text>
<text x="476.1" y="210.3" text-anchor="end" textLength="5.7" lengthAdjust="spacingAndGlyphs">0</text><text x="476.1" y="179.9" text-anchor="end" textLength="5.7" lengthAdjust="spacingAndGlyphs">2</text><text x="476.1" y="149.5" text-anchor="end" textLength="5.7" lengthAdjust="spacingAndGlyphs">4</text><text x="476.1" y="119.1" text-anchor="end" textLength="5.7" lengthAdjust="spacingAndGlyphs">6</text><text x="476.1" y="88.7" text-anchor="end" textLength="5.7" lengthAdjust="spacingAndGlyphs">8</text><text x="476.1" y="58.3" text-anchor="end" textLength="11.3" lengthAdjust="spacingAndGlyphs">10</text><text x="476.1" y="27.9" text-anchor="end" textLength="11.3" lengthAdjust="spacingAndGlyphs">12</text>
</g>
<text x="565.0" y="239.6" style="font-family:'Liberation Serif',serif;font-style:italic;font-size:11.5px" fill="#4a4a4a">&#961;</text><text x="570.7" y="244.0" style="font-family:'Liberation Serif',serif;font-style:italic;font-size:8.8px" fill="#5a5a5a">&#968;</text>
<g transform="translate(455.6 139.3) rotate(-90)" font-size="10.3px" fill="#2e2e2e"><text x="0" y="0">q</text><path d="M8.3 -0.9 V7.3 M11.1 -0.9 V7.3" stroke="#2e2e2e" stroke-width="0.85" fill="none"/><text x="13.3" y="0">[</text><text x="16.7" y="0">M</text><text x="26.4" y="0" textLength="9.0" lengthAdjust="spacingAndGlyphs">W</text><text x="35.7" y="0" textLength="3.5" lengthAdjust="spacingAndGlyphs">/</text><text x="40.1" y="0">m</text><text x="50.0" y="-4.0" font-size="8.8px">-2</text><text x="60.1" y="0">]</text></g>
<rect x="487.3" y="8.6" width="59.6" height="50.5" fill="#fff" stroke="#4d4d4d" stroke-width="0.8"/>
<circle cx="499.2" cy="16.3" r="2.25" fill="#000"/><path d="M489.3 29.1 h19.6" stroke="#111" stroke-width="1.45"/><circle cx="499.2" cy="40.8" r="2.25" fill="#00ec00"/><path d="M489.3 53.4 h19.6" stroke="#00ec00" stroke-width="1.45"/>
<g font-size="8.6px" fill="#000" stroke="#000" stroke-width="0.12"><text x="510.9" y="17.7" textLength="19.6" lengthAdjust="spacingAndGlyphs">No N</text><text x="531.6" y="21.6" font-size="7.4px">2</text><text x="510.9" y="31.3" textLength="34.0" lengthAdjust="spacingAndGlyphs">interpos</text><text x="510.9" y="42.0" textLength="26.4" lengthAdjust="spacingAndGlyphs">With N</text><text x="538.6" y="45.9" font-size="7.4px">2</text><text x="510.9" y="55.8" textLength="34.0" lengthAdjust="spacingAndGlyphs">interpos</text></g>
<text x="602.7" y="25.4" font-size="15.4px" fill="#000" textLength="12.4" lengthAdjust="spacingAndGlyphs">c)</text><text x="622.70" y="25.4" font-size="15.4px" fill="#00b050" textLength="26.0" lengthAdjust="spacingAndGlyphs">XPT</text>
</g>
<text transform="translate(665.9 67.2) rotate(90)" font-size="9.7px" font-weight="bold" font-style="italic"><tspan fill="#ff0000">70305</tspan><tspan fill="#000">,</tspan><tspan fill="#0000ff"> 70306,</tspan><tspan fill="#00b050"> 70302</tspan></text>
</svg>
</body></html>
